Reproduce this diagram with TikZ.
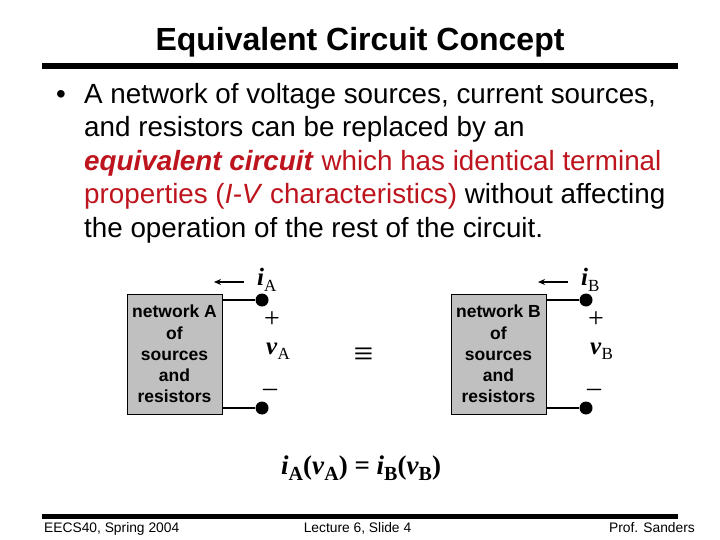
\documentclass[tikz,border=0pt]{standalone}
\usepackage{fontspec}
\setmainfont{Liberation Sans}
\newfontfamily\serifx{Liberation Serif}
\usetikzlibrary{arrows.meta}
\definecolor{redtxt}{RGB}{190,20,30}
\definecolor{boxgray}{RGB}{192,192,192}
\newcommand{\fsz}[1]{\fontsize{#1}{#1}\selectfont}
\newcommand{\sv}[2]{{\serifx\fsz{27}\textbf{\textit{#1}}\raisebox{-6pt}{\fsz{20}\textbf{#2}}}}
\newcommand{\svn}[2]{{\serifx\fsz{25}\textbf{\textit{#1}}\raisebox{-5.5pt}{\fsz{17}#2}}}
\tikzset{x=1pt,y=-1pt,
 txt/.style={inner sep=0pt,anchor=base west,font=\fsz{27.8}},
 netbox/.style={draw=black,line width=1pt,fill=boxgray,minimum width=95pt,minimum height=120pt,inner sep=0pt,align=center,font=\fsz{17.5}\bfseries,text depth=0pt},
 wire/.style={line width=2.8pt},
 dotn/.style={circle,fill=black,minimum size=13pt,inner sep=0pt},
 curr/.style={-{Stealth[length=7pt,width=6pt]},line width=1.2pt},
 lab/.style={inner sep=0pt,anchor=base west},
 symb/.style={inner sep=0pt,font=\serifx\fsz{28}},
 foot/.style={inner sep=0pt,anchor=base,font=\fsz{13.8}}}
\begin{document}
\begin{tikzpicture}
\useasboundingbox (0,0) rectangle (720,540);
\fill[white] (0,0) rectangle (720,540);
\node[inner sep=0pt,anchor=base] (title) at (360,51) {\fsz{32}\bfseries Equivalent Circuit Concept};
\fill[black] (42,63.5) rectangle (678,69);
\node[txt] (b0) at (56,103.5) {•};
\node[txt] (l1) at (84,103.5) {A network of voltage sources, current sources,};
\node[txt] (l2) at (84,136.5) {and resistors can be replaced by an};
\node[txt] (l3) at (84,170.5) {\textcolor{redtxt}{\textbf{\textit{equivalent circuit}} which has identical terminal}};
\node[txt] (l4) at (84,203.5) {\textcolor{redtxt}{properties (\textit{I-V} characteristics)} without affecting};
\node[txt] (l5) at (84,237.5) {the operation of the rest of the circuit.};
% network A
\node[netbox] (na) at (174.5,354) {network A\\[3.8pt]of\\[3.8pt]sources\\[3.8pt]and\\[3.8pt]resistors};
\node[dotn] (at) at (262,300) {};
\node[dotn] (ab) at (262,408) {};
\draw[wire] (na.east |- at) -- (at);
\draw[wire] (na.east |- ab) -- (ab);
\coordinate (ca1) at (244,282);
\coordinate (ca2) at (214,282);
\draw[curr] (ca1) -- (ca2);
\node[lab] (ia) at (257,285.5) {\svn{i}{A}};
\node[symb] (pa) at (272,319.5) {+};
\node[lab] (va) at (266,354) {\svn{v}{A}};
\node[symb] (ma) at (270,393) {–};
\node[inner sep=0pt,font=\serifx\fsz{35}] (eq) at (363.5,356.5) {≡};
% network B
\node[netbox] (nb) at (498.5,354) {network B\\[3.8pt]of\\[3.8pt]sources\\[3.8pt]and\\[3.8pt]resistors};
\node[dotn] (bt) at (586,300) {};
\node[dotn] (bb) at (586,408) {};
\draw[wire] (nb.east |- bt) -- (bt);
\draw[wire] (nb.east |- bb) -- (bb);
\coordinate (cb1) at (568,282);
\coordinate (cb2) at (538,282);
\draw[curr] (cb1) -- (cb2);
\node[lab] (ib) at (581,285.5) {\svn{i}{B}};
\node[symb] (pb) at (596,319.5) {+};
\node[lab] (vb) at (590,354) {\svn{v}{B}};
\node[symb] (mb) at (594,393) {–};
% equation
\node[inner sep=0pt,anchor=base west] (eqn) at (281,474) {\sv{i}{A}{\serifx\fsz{27}\textbf{(}}\sv{v}{A}{\serifx\fsz{27}\textbf{) = }}\sv{i}{B}{\serifx\fsz{27}\textbf{(}}\sv{v}{B}{\serifx\fsz{27}\textbf{)}}};
% footer
\fill[black] (42,514) rectangle (678,519);
\node[inner sep=0pt,anchor=base west,font=\fsz{13.8}] (f1) at (44,532) {EECS40, Spring 2004};
\node[foot] (f2) at (357.5,532) {Lecture 6, Slide 4};
\node[inner sep=0pt,anchor=base east,font=\fsz{13.8}] (f3) at (695,532) {Prof. Sanders};
\end{tikzpicture}
\end{document}
